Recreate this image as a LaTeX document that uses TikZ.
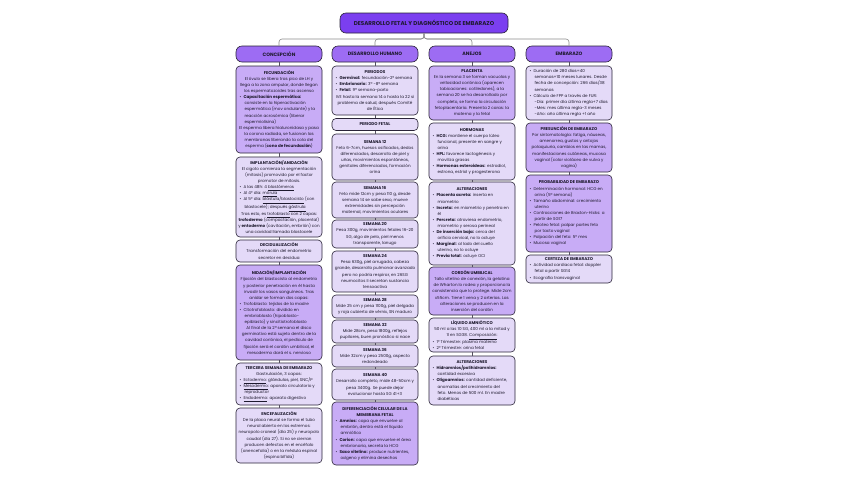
\documentclass[tikz,border=0pt]{standalone}
\usepackage{fontspec}
\setmainfont{Poppins}
\definecolor{titlecol}{HTML}{7B3FF0}
\definecolor{headcol}{HTML}{9D6CF3}
\definecolor{midcol}{HTML}{C8ACF6}
\definecolor{lightcol}{HTML}{E4DAF8}
\definecolor{edgecol}{HTML}{2A2438}
\definecolor{linkcol}{HTML}{8C8C8C}
\definecolor{inkcol}{HTML}{1E1A2E}
\newcommand{\bul}{\makebox[4pt][l]{\textbullet}}
\newcommand{\li}[1]{\makebox[79pt][l]{\bul#1}}
\newcommand{\lc}[1]{\makebox[79pt][l]{\hspace*{5pt}#1}}

\begin{document}
\begin{tikzpicture}[x=1pt,y=-1pt,
	cell/.style={draw=edgecol, line width=0.6pt, rounded corners=4pt, minimum width=86pt,
		inner sep=1pt, align=center, text=inkcol, font=\fontsize{4.1}{6.1}\selectfont},
	lightcell/.style={cell, fill=lightcol},
	midcell/.style={cell, fill=midcol},
	headcell/.style={cell, fill=headcol, minimum height=16pt, rounded corners=6pt,
		font=\fontsize{4.8}{6}\selectfont\bfseries},
	link/.style={draw=linkcol, line width=0.6pt},
	step link/.style={draw=edgecol!80, line width=0.5pt}]
%
	\useasboundingbox (0,0) rectangle (848,477);
	\fill[white] (0,0) rectangle (848,477);
%
	\node[cell, fill=titlecol, minimum width=168pt, minimum height=20pt, rounded corners=6pt,
		font=\fontsize{5.6}{7}\selectfont\bfseries] (title) at (424,23) {DESARROLLO FETAL Y DIAGNÓSTICO DE EMBARAZO};
	\node[headcell] (h1) at (279,54) {CONCEPCIÓN};
	\node[headcell] (h2) at (375,54) {DESARROLLO HUMANO};
	\node[headcell] (h3) at (472,54) {ANEJOS};
	\node[headcell] (h4) at (569,54) {EMBARAZO};
	\coordinate (split) at (424,39);
	\foreach \h in {h1,h2,h3,h4}
		\draw[link, rounded corners=3pt] (title.south) -- (split) -| (\h.north);
%
	% concepcion
	\node[midcell, minimum height=87pt] (fec) at (279,109.5) {\textbf{FECUNDACIÓN}\\
		El óvulo se libera tras pico de LH y\\
		llega a la zona ampular, donde llegan\\
		los espermatozoides tras ascenso\\
		\li{\textbf{Capacitación espermática:}}\\
		\lc{consiste en la hiperactivación}\\
		\lc{espermática (mov ondulante) y la}\\
		\lc{reacción acrosómica (liberar}\\
		\lc{espermiolisina)}\\
		El esperma libera hialuronidasa y pasa\\
		la corona radiada, se fusionan las\\
		membranas liberando la cola del\\
		esperma (\textbf{cono de fecundación})};
	\node[lightcell, minimum height=80pt] (impl) at (279,197) {\textbf{IMPLANTACIÓN/ANIDACIÓN}\\
		El cigoto comienza la segmentación\\
		(mitosis) promovido por el factor\\
		promotor de mitosis.\\
		\li{A las 48h: 4 \underline{blastómeros}}\\
		\li{Al 4º día: \underline{mórula}}\\
		\li{Al 5º día: \underline{blástula/blastocisto} (con}\\
		\lc{blastocele); después \underline{gástrula}}\\
		Tras esto, es \underline{trofoblasto} con 2 capas:\\
		\textbf{trofodermo} (compactación, placental)\\
		y \textbf{entodermo} (cavitación, embrión) con\\
		una cavidad llamada blastocele};
	\node[lightcell, minimum height=22pt] (dec) at (279,251) {\textbf{DECIDUALIZACIÓN}\\
		Transformación del endometrio\\
		secretor en decidua};
	\node[midcell, minimum height=95pt] (nid) at (279,312.5) {\textbf{NIDACIÓN/IMPLANTACIÓN}\\
		Fijación del blastocisto al endometrio\\
		y posterior penetración en él hasta\\
		invadir los vasos sanguíneos. Tras\\
		anidar se forman dos capas:\\
		\li{Trofoblasto: tejidos de la madre}\\
		\li{Citotrofoblasto: dividido en}\\
		\lc{embrioblasto (hipoblasto-}\\
		\lc{epiblasto) y sincitiotrofoblasto}\\
		Al final de la 2ª semana el disco\\
		germinativo está sujeto dentro de la\\
		cavidad coriónica, el pedículo de\\
		fijación será el cordón umbilical, el\\
		mesodermo dará el s. nervioso};
	\node[lightcell, minimum height=42pt] (terc) at (279,384) {\textbf{TERCERA SEMANA DE EMBARAZO}\\
		Gastrulación, 3 capas:\\
		\li{\underline{Ectodermo}: glándulas, piel, SNC/P}\\
		\li{\underline{Mesodermo}: aparato circulatorio y}\\
		\lc{reproductor}\\
		\li{\underline{Endodermo}: aparato digestivo}};
	\node[lightcell, minimum height=55pt] (enc) at (279,435.5) {\textbf{ENCEFALIZACIÓN}\\
		De la placa neural se forma el tubo\\
		neural abierto en los extremos:\\
		neuropolo craneal (día 25) y neuropolo\\
		caudal (día 27). Si no se cierran\\
		producen defectos en el encéfalo\\
		(anencefalia) o en la médula espinal\\
		(espina bífida)};
%
	% desarrollo humano
	\node[lightcell, minimum height=49pt] (per) at (375,90.5) {\textbf{PERIODOS}\\
		\li{\textbf{Germinal:} fecundación-2ª semana}\\
		\li{\textbf{Embrionario:} 3ª -8ª semana}\\
		\li{\textbf{Fetal:} 9ª semana-parto}\\
		IVE hasta la semana 14 o hasta la 22 si\\
		problema de salud, después Comité\\
		de Ética};
	\node[lightcell, minimum height=12pt] (pfet) at (375,124.5) {\textbf{PERIODO FETAL}};
	\node[lightcell, minimum height=46pt] (s12) at (375,157) {\textbf{SEMANA 12}\\
		Feto 6-7cm, huesos osificados, dedos\\
		diferenciados, desarrollo de piel y\\
		uñas, movimientos espontáneos,\\
		genitales diferenciados, formación\\
		orina};
	\node[lightcell, minimum height=36pt] (s16) at (375,200) {\textbf{SEMANA 16}\\
		Feto mide 12cm y pesa 110 g, desde\\
		semana 14 se sabe sexo, mueve\\
		extremidades sin percepción\\
		maternal, movimientos oculares};
	\node[lightcell, minimum height=28pt] (s20) at (375,234) {\textbf{SEMANA 20}\\
		Pesa 300g, movimientos fetales 16-20\\
		SG, algo de pelo, piel menos\\
		transparente, lanugo};
	\node[lightcell, minimum height=41pt] (s24) at (375,271.5) {\textbf{SEMANA 24}\\
		Pesa 630g, piel arrugada, cabeza\\
		grande, desarrollo pulmonar avanzado\\
		pero no podría respirar, en 26SG\\
		neumocitos II secretan sustancia\\
		tensoactiva};
	\node[lightcell, minimum height=23pt] (s28) at (375,306.5) {\textbf{SEMANA 28}\\
		Mide 25 cm y pesa 1100g, piel delgada\\
		y roja cubierta de vérnix, SN maduro};
	\node[lightcell, minimum height=23pt] (s32) at (375,331.5) {\textbf{SEMANA 32}\\
		Mide 28cm, pesa 1800g, reflejos\\
		pupilares, buen pronóstico si nace};
	\node[lightcell, minimum height=22pt] (s36) at (375,356) {\textbf{SEMANA 36}\\
		Mide 32cm y pesa 2500g, aspecto\\
		redondeado};
	\node[lightcell, minimum height=31pt] (s40) at (375,384.5) {\textbf{SEMANA 40}\\
		Desarrollo completo, mide 48-50cm y\\
		pesa 3400g. Se puede dejar\\
		evolucionar hasta SG 41+3};
	\node[midcell, minimum height=63pt] (dif) at (375,433.5) {\textbf{DIFERENCIACIÓN CELULAR DE LA}\\
		\textbf{MEMBRANA FETAL}\\
		\li{\textbf{Amnios:} capa que envuelve al}\\
		\lc{embrión, dentro está el líquido}\\
		\lc{amniótico}\\
		\li{\textbf{Corion:} capa que envuelve el área}\\
		\lc{embrionaria, secreta la HCG}\\
		\li{\textbf{Saco vitelino:} produce nutrientes,}\\
		\lc{oxígeno y elimina desechos}};
%
	% anejos
	\node[midcell, minimum height=54pt] (pla) at (472,93) {\textbf{PLACENTA}\\
		En la semana 3 se forman vacuolas y\\
		vellosidad coriónica (aparecen\\
		tabicaciones: cotiledones), a la\\
		semana 20 se ha desarrollado por\\
		completo, se forma la circulación\\
		fetoplacentaria. Presenta 2 caras: la\\
		materna y la fetal};
	\node[lightcell, minimum height=57pt] (hor) at (472,151.5) {\textbf{HORMONAS}\\
		\li{\textbf{HCG:} mantiene el cuerpo lúteo}\\
		\lc{funcional, presente en sangre y}\\
		\lc{orina}\\
		\li{\textbf{HPL:} favorece lactogénesis y}\\
		\lc{moviliza grasas}\\
		\li{\textbf{Hormonas esteroideas:} estradiol,}\\
		\lc{estrona, estriol y progesterona}};
	\node[lightcell, minimum height=83pt] (alt1) at (472,223.5) {\textbf{ALTERACIONES}\\
		\li{\textbf{Placenta acreta:} inserta en}\\
		\lc{miometrio}\\
		\li{\textbf{Increta:} en miometrio y penetra en}\\
		\lc{él}\\
		\li{\textbf{Percreta:} atraviesa endometrio,}\\
		\lc{miometrio y serosa perineal}\\
		\li{\textbf{De inserción baja:} cerca del}\\
		\lc{orificio cervical, no lo ocluye}\\
		\li{\textbf{Marginal:} al lado del cuello}\\
		\lc{uterino, no lo ocluye}\\
		\li{\textbf{Previa total:} ocluye OCI}};
	\node[midcell, minimum height=48pt] (cor) at (472,291) {\textbf{CORDÓN UMBILICAL}\\
		Tallo vitelino de conexión, la gelatina\\
		de Wharton lo rodea y proporciona la\\
		consistencia que lo protege. Mide 2cm\\
		x55cm. Tiene 1 vena y 2 arterias. Las\\
		alteraciones se producen en la\\
		inserción del cordón};
	\node[lightcell, minimum height=34pt] (liq) at (472,335) {\textbf{LÍQUIDO AMNIÓTICO}\\
		50 ml a las 10 SG, 400 ml a la mitad y\\
		1l en SG38. \underline{Composición}:\\
		\li{1º Trimestre: plasma materno}\\
		\li{2º Trimestre: orina fetal}};
	\node[lightcell, minimum height=49pt] (alt2) at (472,380.5) {\textbf{ALTERACIONES}\\
		\li{\textbf{Hidramnios/polihidramnios:}}\\
		\lc{cantidad excesiva}\\
		\li{\textbf{Oligoamnios:} cantidad deficiente,}\\
		\lc{anomalías del crecimiento del}\\
		\lc{feto. Menos de 500 ml. En madre}\\
		\lc{diabéticas}};
%
	% embarazo
	\node[lightcell, minimum height=54pt] (dur) at (569,93) {\li{Duración de 280 días=40}\\
		\lc{semanas=10 meses lunares. Desde}\\
		\lc{fecha de concepción: 266 días/38}\\
		\lc{semanas}\\
		\li{Cálculo de FPP a través de FUR:}\\
		\lc{-Día: primer día última regla+7 días}\\
		\lc{-Mes: mes última regla-3 meses}\\
		\lc{-Año: año última regla +1 año}};
	\node[midcell, minimum height=49pt] (pre) at (569,147.5) {\textbf{PRESUNCIÓN DE EMBARAZO}\\
		Por sintomatología: fatiga, náuseas,\\
		amenorrea, gustos y antojos\\
		polaquiuria, cambios en las mamas,\\
		manifestaciones cutáneas, mucosa\\
		vaginal (color violáceo de vulva y\\
		vagina)};
	\node[midcell, minimum height=77pt] (pro) at (569,213.5) {\textbf{PROBABILIDAD DE EMBARAZO}\\
		\li{Determinación hormonal: HCG en}\\
		\lc{orina (5ª semana)}\\
		\li{Tamaño abdominal: crecimiento}\\
		\lc{uterino}\\
		\li{Contracciones de Braxton-Hicks: a}\\
		\lc{partir de SG17}\\
		\li{Peloteo fetal: palpar partes feto}\\
		\lc{por tacto vaginal}\\
		\li{Palpación del feto: 5º mes}\\
		\li{Mucosa vaginal}};
	\node[lightcell, minimum height=28pt] (cer) at (569,269) {\textbf{CERTEZA DE EMBARAZO}\\
		\li{Actividad cardiaca fetal: doppler}\\
		\lc{fetal a partir SG14}\\
		\li{Ecografía transvaginal}};
%
	\foreach \a/\b in {h1/fec,fec/impl,impl/dec,dec/nid,nid/terc,terc/enc,
		h2/per,per/pfet,pfet/s12,s12/s16,s16/s20,s20/s24,s24/s28,s28/s32,s32/s36,s36/s40,s40/dif,
		h3/pla,pla/hor,hor/alt1,alt1/cor,cor/liq,liq/alt2,
		h4/dur,dur/pre,pre/pro,pro/cer}
		\draw[step link] (\a) -- (\b);
\end{tikzpicture}
\end{document}
